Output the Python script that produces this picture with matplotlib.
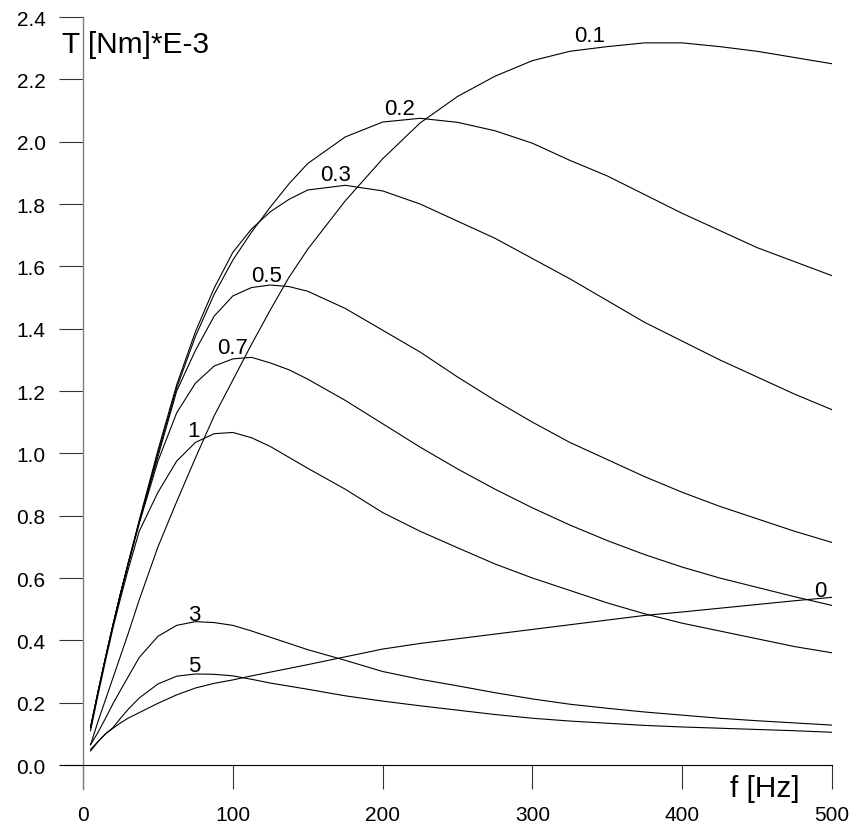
import numpy as np
import matplotlib
matplotlib.use('Agg')
import matplotlib.pyplot as plt

# =============================================================================
# Torque curves T(f) for several damping values
# =============================================================================

freq = [5, 10, 15, 20, 25, 30, 37.5, 50, 62.5, 75, 87.5, 100, 112.5, 125, 137.5, 150,
        175, 200, 225, 250, 275, 300, 325, 350, 375, 400, 425, 450, 475, 500]

t_01 = [0.065, 0.14, 0.21, 0.28, 0.35, 0.42, 0.53, 0.70, 0.845, 0.985, 1.12, 1.235, 1.35, 1.46, 1.565, 1.655,
        1.81, 1.945, 2.06, 2.145, 2.21, 2.26, 2.29, 2.305, 2.317, 2.317, 2.305, 2.29, 2.27, 2.25]
t_02 = [0.12, 0.235, 0.345, 0.45, 0.55, 0.645, 0.78, 1.0, 1.21, 1.375, 1.51, 1.62, 1.71, 1.79, 1.865, 1.93,
        2.015, 2.063, 2.075, 2.062, 2.035, 1.995, 1.94, 1.89, 1.83, 1.77, 1.715, 1.66, 1.615, 1.57]
t_03 = [0.12, 0.235, 0.345, 0.45, 0.55, 0.645, 0.785, 1.01, 1.22, 1.39, 1.53, 1.645, 1.72, 1.775, 1.815, 1.845,
        1.86, 1.842, 1.80, 1.745, 1.69, 1.625, 1.56, 1.49, 1.42, 1.36, 1.30, 1.245, 1.19, 1.14]
t_05 = [0.12, 0.235, 0.345, 0.45, 0.55, 0.645, 0.78, 0.99, 1.20, 1.33, 1.44, 1.505, 1.532, 1.54, 1.535, 1.52,
        1.465, 1.395, 1.325, 1.245, 1.17, 1.10, 1.035, 0.98, 0.925, 0.875, 0.83, 0.79, 0.75, 0.714]
t_07 = [0.12, 0.235, 0.345, 0.45, 0.55, 0.64, 0.775, 0.975, 1.13, 1.225, 1.28, 1.303, 1.308, 1.29, 1.268, 1.238,
        1.17, 1.095, 1.02, 0.95, 0.885, 0.825, 0.77, 0.72, 0.675, 0.635, 0.60, 0.57, 0.54, 0.512]
t_1 = [0.11, 0.225, 0.335, 0.44, 0.535, 0.625, 0.75, 0.875, 0.975, 1.035, 1.063, 1.067, 1.05, 1.022, 0.987, 0.952,
       0.885, 0.81, 0.75, 0.697, 0.645, 0.60, 0.56, 0.52, 0.485, 0.455, 0.43, 0.405, 0.38, 0.36]
t_3 = [0.065, 0.105, 0.15, 0.197, 0.24, 0.282, 0.345, 0.413, 0.448, 0.46, 0.457, 0.448, 0.43, 0.41, 0.39, 0.37,
       0.336, 0.30, 0.275, 0.254, 0.232, 0.212, 0.195, 0.182, 0.17, 0.16, 0.15, 0.142, 0.135, 0.128]
t_5 = [0.05, 0.075, 0.10, 0.12, 0.15, 0.178, 0.215, 0.26, 0.285, 0.292, 0.291, 0.286, 0.275, 0.263, 0.253, 0.243,
       0.222, 0.205, 0.19, 0.176, 0.162, 0.15, 0.141, 0.134, 0.127, 0.122, 0.118, 0.114, 0.11, 0.105]
t_0 = [0.045, 0.075, 0.10, 0.118, 0.135, 0.15, 0.168, 0.198, 0.225, 0.247, 0.262, 0.273, 0.286, 0.298, 0.31, 0.322,
       0.347, 0.372, 0.39, 0.405, 0.42, 0.435, 0.45, 0.465, 0.48, 0.491, 0.503, 0.515, 0.527, 0.538]

curves = [t_01, t_02, t_03, t_05, t_07, t_1, t_3, t_5, t_0]
curve_names = ['0.1', '0.2', '0.3', '0.5', '0.7', '1', '3', '5', '0']
label_f = [338.5, 211.6, 168.6, 122.8, 100.1, 73.7, 74.1, 74.1, 492]
label_t = [2.340, 2.106, 1.895, 1.569, 1.338, 1.072, 0.484, 0.319, 0.561]

x_ticks = [0, 100, 200, 300, 400, 500]
y_ticks = [0.0, 0.2, 0.4, 0.6, 0.8, 1.0, 1.2, 1.4, 1.6, 1.8, 2.0, 2.2, 2.4]

# =============================================================================
# Plot
# =============================================================================

plt.rcParams['font.family'] = ['Liberation Sans', 'DejaVu Sans']

fig = plt.figure(figsize=(8.56, 8.29), dpi=100)
ax = fig.add_axes([60/856, 39/829, 772/856, 772/829])

for vals in curves:
    ax.plot(freq, vals, color='black', linewidth=0.8)

for name, lf, lt in zip(curve_names, label_f, label_t):
    ax.text(lf, lt, name, fontsize=16, ha='center', va='center')

# axes cross at the origin, with a short overhang the size of a tick
ax.set_xlim(-15.4, 500)
ax.set_ylim(-0.077, 2.4)

for side in ['top', 'right']:
    ax.spines[side].set_visible(False)
ax.spines['left'].set_position(('data', 0))
ax.spines['bottom'].set_position(('data', 0))
ax.spines['left'].set_color('#808080')
ax.spines['left'].set_linewidth(1.0)
ax.spines['bottom'].set_color('black')
ax.spines['bottom'].set_linewidth(0.8)

ax.set_xticks(x_ticks)
ax.set_xticklabels([str(v) for v in x_ticks])
ax.set_yticks(y_ticks)
ax.set_yticklabels(['%.1f' % v for v in y_ticks])

ax.tick_params(axis='x', direction='out', length=17, width=0.8, color='#333333',
               labelsize=15, pad=12)
ax.tick_params(axis='y', direction='out', length=17, width=0.8, color='#333333',
               labelsize=15, pad=10)

fig.text(62/856, 1 - 53/829, 'T [Nm]*E-3', fontsize=21.5, ha='left', va='baseline')
fig.text(800/856, 1 - 797/829, 'f [Hz]', fontsize=21.5, ha='right', va='baseline')

plt.savefig('out.png', dpi=100)
